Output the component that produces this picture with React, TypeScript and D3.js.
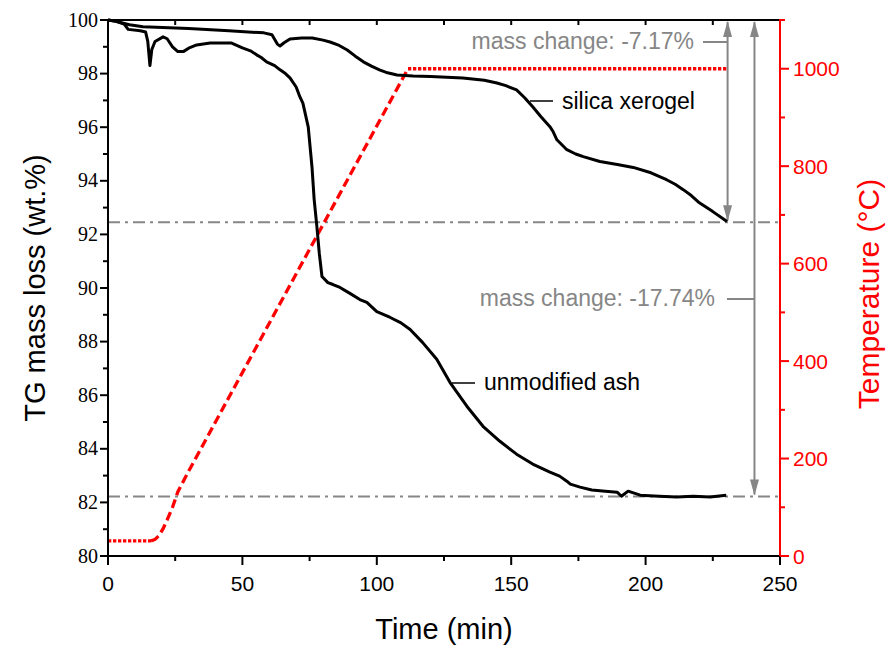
import React from "react";
import * as d3 from "d3";

// ---- data ----
const silicaTime = [0, 3, 5, 8, 13, 30, 45, 58, 61, 63, 64, 65.5, 67.7, 72, 76, 80, 82.6, 86, 89, 92, 95, 98, 101, 104, 107.5, 113.5, 120, 132, 140, 144.7, 148, 152, 155, 158, 161, 164.4, 165.5, 167, 170.7, 174, 176.8, 183, 190, 195.4, 202, 207.8, 211, 214, 217, 220, 225, 230.3];
const silicaMass = [100, 99.95, 99.9, 99.82, 99.75, 99.68, 99.6, 99.52, 99.45, 99.1, 99.03, 99.15, 99.29, 99.33, 99.33, 99.25, 99.18, 99.05, 98.88, 98.65, 98.44, 98.28, 98.14, 98.03, 97.95, 97.91, 97.89, 97.84, 97.75, 97.65, 97.55, 97.39, 97.1, 96.76, 96.4, 96.02, 95.85, 95.53, 95.16, 95.0, 94.9, 94.72, 94.6, 94.5, 94.3, 94.04, 93.87, 93.67, 93.45, 93.18, 92.85, 92.48];

const ashTime = [0, 3, 6, 7.5, 12, 14, 14.8, 15.6, 16.3, 17.5, 20.5, 22, 24, 26, 28, 30, 33, 38, 46, 50, 53, 55.3, 57, 59, 62, 64, 66, 67.7, 70, 71.4, 72.5, 74.5, 75.9, 76.7, 77.7, 78.6, 79.6, 81.8, 83.7, 86.3, 90, 93.7, 96.3, 100, 105, 109, 112.4, 117, 122.3, 127.2, 133.5, 139.5, 145.8, 152, 158, 164.4, 168, 170.7, 172, 175.6, 180, 185, 189.4, 191, 193.5, 198, 205, 211.6, 217.7, 224, 230];
const ashMass = [100, 99.95, 99.85, 99.65, 99.6, 99.55, 99.2, 98.3, 98.9, 99.2, 99.37, 99.3, 99.0, 98.82, 98.82, 98.95, 99.07, 99.14, 99.14, 98.96, 98.85, 98.7, 98.6, 98.44, 98.3, 98.14, 98.0, 97.84, 97.5, 97.13, 96.9, 96.0, 94.5, 93.3, 92.3, 91.3, 90.43, 90.2, 90.13, 90.02, 89.8, 89.57, 89.46, 89.12, 88.9, 88.7, 88.45, 87.97, 87.34, 86.48, 85.59, 84.84, 84.28, 83.8, 83.43, 83.13, 82.98, 82.79, 82.68, 82.57, 82.46, 82.42, 82.38, 82.23, 82.42, 82.27, 82.23, 82.2, 82.23, 82.2, 82.27];

const tempFlat1Time = [0, 16];
const tempFlat1Val = [31, 31];
const tempRampTime = [16, 17.5, 19, 20.5, 22, 24, 26, 30, 111.6];
const tempRampVal = [31, 34, 42, 56, 74, 100, 132, 174, 1000];
const tempFlat2Time = [111.6, 230.6];
const tempFlat2Val = [1000, 1000];

const xMajorTicks = [0, 50, 100, 150, 200, 250];
const xMinorTicks = [25, 75, 125, 175, 225];
const topTicks = [25, 50, 75, 100, 125, 150, 175, 200, 225];
const yMajorTicks = [80, 82, 84, 86, 88, 90, 92, 94, 96, 98, 100];
const yMinorTicks = [81, 83, 85, 87, 89, 91, 93, 95, 97, 99];
const tMajorTicks = [0, 200, 400, 600, 800, 1000];
const tMinorTicks = [100, 300, 500, 700, 900, 1100];

const upperLevel = 92.45; // silica end level
const lowerLevel = 82.22; // ash end level
const arrow1Time = 230.5;
const arrow2Time = 240.5;
const silicaChange = "mass change: -7.17%";
const ashChange = "mass change: -17.74%";

const W = 892, H = 645;
const L = 108, R = 780, T = 20, B = 556;

export default function App() {
  const x = d3.scaleLinear().domain([0, 250]).range([L, R]);
  const y = d3.scaleLinear().domain([80, 100]).range([B, T]);
  const yT = d3.scaleLinear().domain([0, 1100]).range([B, T]);

  const massLine = d3.line<[number, number]>().x(d => x(d[0])).y(d => y(d[1]));
  const tempLine = d3.line<[number, number]>().x(d => x(d[0])).y(d => yT(d[1]));
  const zip = (a: number[], b: number[]) => a.map((v, i) => [v, b[i]] as [number, number]);

  const sans = "'Liberation Sans', Arial, sans-serif";
  const serif = "'Liberation Serif', 'Times New Roman', serif";
  const gray = "#868686";
  const red = "#ff0000";

  const arrowHead = (ax: number, ay: number, dir: 1 | -1) => {
    const len = 16, hw = 4.5;
    return `M${ax},${ay} L${ax - hw},${ay - dir * len} L${ax + hw},${ay - dir * len} Z`;
  };

  const a1x = x(arrow1Time), a2x = x(arrow2Time);
  const yU = y(upperLevel), yL = y(lowerLevel);

  return (
    <svg width={W} height={H} style={{ position: "absolute", left: 0, top: 0, background: "#fff" }}>
      {/* reference lines */}
      <line x1={L} x2={R} y1={yU} y2={yU} stroke={gray} strokeWidth={2} strokeDasharray="12 5 3 5" />
      <line x1={L} x2={R} y1={yL} y2={yL} stroke={gray} strokeWidth={2} strokeDasharray="12 5 3 5" />

      {/* arrows */}
      <line x1={a1x} x2={a1x} y1={T + 2} y2={yU - 2} stroke={gray} strokeWidth={2} />
      <path d={arrowHead(a1x, T + 1, -1)} fill={gray} />
      <path d={arrowHead(a1x, yU - 1, 1)} fill={gray} />
      <line x1={a2x} x2={a2x} y1={T + 2} y2={yL - 2} stroke={gray} strokeWidth={2} />
      <path d={arrowHead(a2x, T + 1, -1)} fill={gray} />
      <path d={arrowHead(a2x, yL - 1, 1)} fill={gray} />

      {/* annotation texts */}
      <text x={694} y={49} textAnchor="end" fontFamily={sans} fontSize={23} fill={gray}>{silicaChange}</text>
      <line x1={703} x2={a1x} y1={42} y2={42} stroke={gray} strokeWidth={2} />
      <text x={715} y={306} textAnchor="end" fontFamily={sans} fontSize={23} fill={gray}>{ashChange}</text>
      <line x1={727} x2={a2x} y1={299} y2={299} stroke={gray} strokeWidth={2} />

      {/* temperature */}
      <path d={tempLine(zip(tempFlat1Time, tempFlat1Val)) || ""} fill="none" stroke={red} strokeWidth={3.3} strokeDasharray="3.3 1.7" />
      <path d={tempLine(zip(tempRampTime, tempRampVal)) || ""} fill="none" stroke={red} strokeWidth={3.3} strokeDasharray="9 4.5" />
      <path d={tempLine(zip(tempFlat2Time, tempFlat2Val)) || ""} fill="none" stroke={red} strokeWidth={3.3} strokeDasharray="3.3 1.7" />

      {/* mass curves */}
      <path d={massLine(zip(silicaTime, silicaMass)) || ""} fill="none" stroke="#000" strokeWidth={3} strokeLinejoin="round" />
      <path d={massLine(zip(ashTime, ashMass)) || ""} fill="none" stroke="#000" strokeWidth={3} strokeLinejoin="round" />

      {/* curve labels */}
      <line x1={530} x2={553} y1={101} y2={101} stroke="#000" strokeWidth={1.5} />
      <text x={562} y={109} fontFamily={sans} fontSize={23} fill="#000">silica xerogel</text>
      <line x1={452} x2={475} y1={383} y2={383} stroke="#000" strokeWidth={1.5} />
      <text x={484} y={390} fontFamily={sans} fontSize={23} fill="#000">unmodified ash</text>

      {/* frame */}
      <line x1={L} x2={R} y1={T} y2={T} stroke="#000" strokeWidth={2} />
      <line x1={L} x2={R} y1={B} y2={B} stroke="#000" strokeWidth={2} />
      <line x1={L} x2={L} y1={T - 1} y2={B + 1} stroke="#000" strokeWidth={2} />
      <line x1={R} x2={R} y1={T - 1} y2={B + 1} stroke={red} strokeWidth={2} />

      {/* top ticks */}
      {topTicks.map(t => <line key={"tt" + t} x1={x(t)} x2={x(t)} y1={T} y2={T + 5} stroke="#000" strokeWidth={2} />)}

      {/* bottom axis */}
      {xMajorTicks.map(t => (
        <g key={"xm" + t}>
          <line x1={x(t)} x2={x(t)} y1={B} y2={B + 9} stroke="#000" strokeWidth={2} />
          <text x={x(t)} y={591} textAnchor="middle" fontFamily={sans} fontSize={21} fill="#000">{t}</text>
        </g>
      ))}
      {xMinorTicks.map(t => <line key={"xn" + t} x1={x(t)} x2={x(t)} y1={B} y2={B + 5} stroke="#000" strokeWidth={2} />)}
      <text x={(L + R) / 2} y={639} textAnchor="middle" fontFamily={sans} fontSize={29} fill="#000">Time (min)</text>

      {/* left axis */}
      {yMajorTicks.map(v => (
        <g key={"ym" + v}>
          <line x1={L - 8} x2={L} y1={y(v)} y2={y(v)} stroke="#000" strokeWidth={2} />
          <text x={L - 10} y={y(v) + 6.5} textAnchor="end" fontFamily={serif} fontSize={20} fill="#000">{v}</text>
        </g>
      ))}
      {yMinorTicks.map(v => <line key={"yn" + v} x1={L - 5} x2={L} y1={y(v)} y2={y(v)} stroke="#000" strokeWidth={2} />)}
      <text transform={`translate(45,${(T + B) / 2}) rotate(-90)`} textAnchor="middle" fontFamily={sans} fontSize={29} fill="#000">TG mass loss (wt.%)</text>

      {/* right axis */}
      {tMajorTicks.map(v => (
        <g key={"tm" + v}>
          <line x1={R} x2={R + 9} y1={yT(v)} y2={yT(v)} stroke={red} strokeWidth={2} />
          <text x={R + 13} y={yT(v) + 7.5} textAnchor="start" fontFamily={sans} fontSize={21} fill={red}>{v}</text>
        </g>
      ))}
      {tMinorTicks.map(v => <line key={"tn" + v} x1={R} x2={R + 5} y1={yT(v)} y2={yT(v)} stroke={red} strokeWidth={2} />)}
      <text transform={`translate(879,${(T + B) / 2 + 6}) rotate(-90)`} textAnchor="middle" fontFamily={sans} fontSize={30} fill={red}>Temperature (°C)</text>
    </svg>
  );
}
